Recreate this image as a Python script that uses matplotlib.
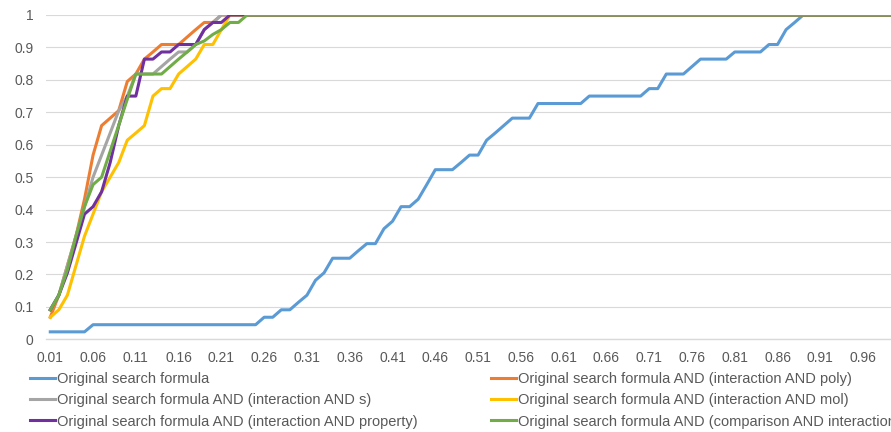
import matplotlib
matplotlib.use("Agg")
import matplotlib.pyplot as plt
from matplotlib.lines import Line2D

# thresholds 0.01 .. 1.00 (category axis)
thresholds = [f"{k / 100:.2f}" for k in range(1, 101)]

# recall values
original = ([0.023] * 5 + [0.045] * 20 + [0.068] * 2 + [0.091] * 2
            + [0.114, 0.136, 0.182, 0.205] + [0.25] * 3 + [0.273] + [0.295] * 2
            + [0.341, 0.364] + [0.409] * 2 + [0.432, 0.477] + [0.523] * 3 + [0.545]
            + [0.568] * 2 + [0.614, 0.636, 0.659] + [0.682] * 3 + [0.727] * 6
            + [0.75] * 7 + [0.773] * 2 + [0.818] * 3 + [0.841] + [0.864] * 4
            + [0.886] * 4 + [0.909] * 2 + [0.955, 0.977] + [1.0] * 12)
and_poly = ([0.068, 0.136, 0.227, 0.318, 0.432, 0.568, 0.659, 0.682, 0.705, 0.795,
             0.818, 0.864, 0.886, 0.909, 0.909, 0.909, 0.932, 0.955, 0.977, 0.977]
            + [1.0] * 80)
and_s = ([0.091, 0.136, 0.227, 0.318, 0.409, 0.5, 0.568, 0.636, 0.705, 0.75,
          0.818, 0.818, 0.818, 0.841, 0.864, 0.886, 0.886, 0.909, 0.955, 0.977]
         + [1.0] * 80)
and_mol = ([0.068, 0.091, 0.136, 0.227, 0.318, 0.386, 0.455, 0.5, 0.545, 0.614,
            0.636, 0.659, 0.75, 0.773, 0.773, 0.818, 0.841, 0.864, 0.909, 0.909, 0.955]
           + [1.0] * 79)
and_property = ([0.091, 0.136, 0.205, 0.295, 0.386, 0.409, 0.455, 0.545, 0.659, 0.75,
                 0.75, 0.864, 0.864, 0.886, 0.886, 0.909, 0.909, 0.909, 0.955, 0.977, 0.977]
                + [1.0] * 79)
and_comparison = ([0.091, 0.136, 0.215, 0.318, 0.409, 0.477, 0.5, 0.58, 0.66, 0.74,
                   0.818, 0.818, 0.818, 0.818, 0.841, 0.864, 0.886, 0.909, 0.92, 0.94,
                   0.955, 0.977, 0.977] + [1.0] * 77)

labels = [
    "Original search formula",
    "Original search formula AND (interaction AND poly)",
    "Original search formula AND (interaction AND s)",
    "Original search formula AND (interaction AND mol)",
    "Original search formula AND (interaction AND property)",
    "Original search formula AND (comparison AND interaction)",
]
colors = ["#5B9BD5", "#ED7D31", "#A5A5A5", "#FFC000", "#7030A0", "#70AD47"]
series = [original, and_poly, and_s, and_mol, and_property, and_comparison]

plt.rcParams['font.family'] = ['Liberation Sans', 'DejaVu Sans']
plt.rcParams['font.size'] = 10

fig = plt.figure(figsize=(8.91, 4.32), dpi=100)
ax = fig.add_axes([46 / 891, 92.7 / 432, 855.6 / 891, 324.3 / 432])

x = list(range(1, len(thresholds) + 1))
for ys, c in zip(series, colors):
    ax.plot(x, ys, color=c, linewidth=2.2, solid_joinstyle='round')

ax.set_xlim(0.5, 100.5)
ax.set_ylim(0, 1)
ax.set_yticks([i / 10 for i in range(11)])
ax.set_yticklabels(["0"] + [f"{i / 10:g}" for i in range(1, 10)] + ["1"])
ax.set_xticks(x[::5])
ax.set_xticklabels(thresholds[::5])
ax.yaxis.grid(True, color="#D9D9D9", linewidth=0.8)
ax.set_axisbelow(True)
for side in ["left", "right", "top"]:
    ax.spines[side].set_visible(False)
ax.spines["bottom"].set_color("#D9D9D9")
ax.spines["bottom"].set_linewidth(1.0)
ax.tick_params(axis="both", length=0, colors="#595959", labelsize=10)
ax.tick_params(axis="x", pad=8.5)
ax.tick_params(axis="y", pad=9)

handles = [Line2D([0], [0], color=c, linewidth=2.2) for c in colors]
common = dict(frameon=False, fontsize=10.5, handlelength=1.7, handletextpad=0.15,
              labelspacing=0.5, borderpad=0, borderaxespad=0, labelcolor="#595959")
fig.legend([handles[i] for i in (0, 2, 4)], [labels[i] for i in (0, 2, 4)],
           loc="upper left", bbox_to_anchor=(30 / 891, 1 - 372 / 432), **common)
fig.legend([handles[i] for i in (1, 3, 5)], [labels[i] for i in (1, 3, 5)],
           loc="upper left", bbox_to_anchor=(491 / 891, 1 - 372 / 432), **common)

fig.savefig("out.png", dpi=100)
